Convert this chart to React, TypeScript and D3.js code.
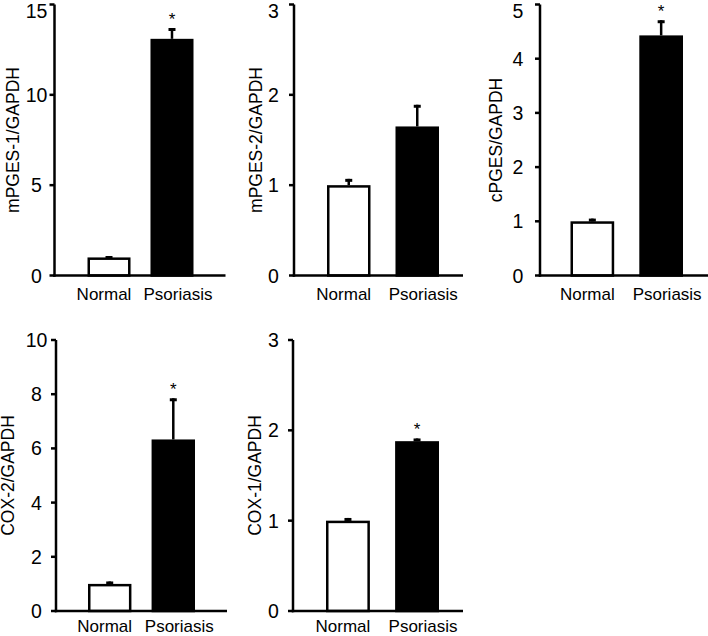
import * as d3 from "d3";

const WIDTH = 708;
const HEIGHT = 636;
const FONT = "'Liberation Sans', Arial, sans-serif";

const categories = ["Normal", "Psoriasis"];
const titles = ["mPGES-1/GAPDH", "mPGES-2/GAPDH", "cPGES/GAPDH", "COX-2/GAPDH", "COX-1/GAPDH"];
const normalMeans = [1.0, 1.0, 1.0, 1.0, 1.0];
const normalErrors = [0.08, 0.07, 0.05, 0.09, 0.03];
const psoriasisMeans = [13.1, 1.65, 4.43, 6.33, 1.88];
const psoriasisErrors = [0.6, 0.24, 0.28, 1.52, 0.03];
const significant = [true, false, true, true, true];
const yMaxes = [15, 3, 5, 10, 3];
const tickSteps = [5, 1, 1, 2, 1];

// where each panel sits on the page
const layout = [
  { axisX: 54.5, top: 4.5, bottom: 275.5, barRange: [33, 139], inner: 0.317, baseLen: 171, titleOff: 36, tickOff: 18 },
  { axisX: 294, top: 4.5, bottom: 275.5, barRange: [33, 145], inner: 0.365, baseLen: 169, titleOff: 32, tickOff: 20.5 },
  { axisX: 540, top: 4.5, bottom: 275.5, barRange: [30.5, 143], inner: 0.365, baseLen: 168, titleOff: 38, tickOff: 22 },
  { axisX: 56, top: 340, bottom: 611, barRange: [32, 139], inner: 0.317, baseLen: 171, titleOff: 42, tickOff: 19.5 },
  { axisX: 293, top: 340, bottom: 611, barRange: [33, 146], inner: 0.365, baseLen: 170, titleOff: 32, tickOff: 19.5 },
];

const labelShift = [-5, 6];
const STROKE = 2.5;

function Panel({ index }) {
  const L = layout[index];
  const y = d3.scaleLinear().domain([0, yMaxes[index]]).range([L.bottom, L.top]);
  const x = d3
    .scaleBand()
    .domain(categories)
    .range([L.axisX + L.barRange[0], L.axisX + L.barRange[1]])
    .paddingInner(L.inner)
    .paddingOuter(0);
  const ticks = d3.range(0, yMaxes[index] + 1e-9, tickSteps[index]);
  const means = [normalMeans[index], psoriasisMeans[index]];
  const errs = [normalErrors[index], psoriasisErrors[index]];
  const midY = (L.top + L.bottom) / 2;

  return (
    <g>
      <text
        transform={`translate(${L.axisX - L.titleOff},${midY}) rotate(-90)`}
        textAnchor="middle"
        fontSize={17.5}
        fontFamily={FONT}
      >
        {titles[index]}
      </text>
      {ticks.map((t) => (
        <g key={t}>
          <line x1={L.axisX - 5} x2={L.axisX} y1={y(t)} y2={y(t)} stroke="#000" strokeWidth={STROKE} />
          <text
            x={L.axisX - L.tickOff}
            y={Math.max(y(t), 10.5)}
            dy="0.36em"
            textAnchor="middle"
            fontSize={19.5}
            fontFamily={FONT}
          >
            {t}
          </text>
        </g>
      ))}
      {categories.map((c, i) => {
        const bx = x(c);
        const bw = x.bandwidth();
        const cx = bx + bw / 2;
        const top = y(means[i]);
        const errTop = y(means[i] + errs[i]);
        return (
          <g key={c}>
            <line x1={cx} x2={cx} y1={top} y2={errTop} stroke="#000" strokeWidth={STROKE} />
            <line x1={cx - 3.5} x2={cx + 3.5} y1={errTop + 1.5} y2={errTop + 1.5} stroke="#000" strokeWidth={3} />
            <rect
              x={bx + STROKE / 2}
              y={top + STROKE / 2}
              width={bw - STROKE}
              height={L.bottom - top - STROKE / 2}
              fill={i === 0 ? "#fff" : "#000"}
              stroke="#000"
              strokeWidth={STROKE}
            />
            {i === 1 && significant[index] && (
              <text x={cx} y={errTop - 3} textAnchor="middle" fontSize={17} fontFamily={FONT}>
                *
              </text>
            )}
            <text
              x={cx + labelShift[i]}
              y={Math.min(L.bottom + 24, HEIGHT - 4)}
              textAnchor="middle"
              fontSize={17}
              fontFamily={FONT}
            >
              {c}
            </text>
          </g>
        );
      })}
      <line x1={L.axisX} x2={L.axisX} y1={y(yMaxes[index])} y2={L.bottom + STROKE / 2} stroke="#000" strokeWidth={STROKE} />
      <line x1={L.axisX - STROKE / 2} x2={L.axisX + L.baseLen} y1={L.bottom} y2={L.bottom} stroke="#000" strokeWidth={STROKE} />
    </g>
  );
}

export default function App() {
  return (
    <>
      <style>{`body{margin:0}`}</style>
      <svg width={WIDTH} height={HEIGHT} viewBox={`0 0 ${WIDTH} ${HEIGHT}`} style={{ display: "block", background: "#fff" }}>
        {titles.map((_, i) => (
          <Panel key={i} index={i} />
        ))}
      </svg>
    </>
  );
}
